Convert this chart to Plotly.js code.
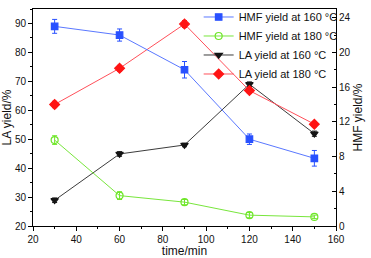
<!DOCTYPE html>
<html><head><meta charset="utf-8">
<script src="https://cdn.plot.ly/plotly-3.0.1.min.js"></script>
<style>html,body{margin:0;padding:0;background:#fff}#c{width:371px;height:258px}</style>
</head><body><div id="c"></div>
<script>
var time = [30, 60, 90, 120, 150];
var hmf160 = [23.0, 22.0, 18.0, 10.0, 7.8];
var hmf160Err = [0.8, 0.7, 0.95, 0.6, 0.9];
var hmf180 = [9.9, 3.5, 2.75, 1.25, 1.05];
var hmf180Err = [0.5, 0.45, 0.3, 0.3, 0.2];
var la160 = [28.9, 44.9, 48.0, 69.0, 51.9];
var la160Err = [0.8, 0.8, 0.6, 0.8, 0.9];
var la180 = [62.0, 74.5, 89.8, 66.8, 55.2];
var la180Err = [1.1, 1.0, 1.2, 1.0, 0.9];

function tr(name, y, err, color, lineColor, symbol, axis, size) {
  return {
    x: time, y: y, name: name, type: 'scatter', mode: 'lines+markers', yaxis: axis,
    line: {color: lineColor, width: 1},
    marker: {color: color, symbol: symbol, size: size, line: {color: color, width: 1.2}},
    error_y: {type: 'data', array: err, visible: true, color: color, thickness: 1, width: 2.5}
  };
}
var data = [
  tr('HMF yield at 160 \u00B0C', hmf160, hmf160Err, 'rgb(40,80,255)', 'rgb(90,120,255)', 'square', 'y2', 6.5),
  tr('HMF yield at 180 \u00B0C', hmf180, hmf180Err, 'rgb(110,230,40)', 'rgb(120,230,60)', 'circle-open', 'y2', 7),
  tr('LA yield at 160 \u00B0C', la160, la160Err, 'rgb(20,20,20)', 'rgb(60,60,60)', 'triangle-down', 'y', 6.5),
  tr('LA yield at 180 \u00B0C', la180, la180Err, 'rgb(255,20,20)', 'rgb(255,80,90)', 'diamond', 'y', 7.5)
];
var fam = 'Liberation Sans, Arial, sans-serif';
var fnt = {family: fam, size: 10, color: '#111'};
var layout = {
  width: 371, height: 258,
  margin: {l: 33, r: 35, t: 2, b: 32},
  paper_bgcolor: '#fff', plot_bgcolor: '#fff',
  font: fnt,
  showlegend: true,
  legend: {x: 1.022, y: 1.03, xanchor: 'right', yanchor: 'top', bgcolor: 'rgba(0,0,0,0)',
           font: {family: fam, size: 11, color: '#111'},
           tracegroupgap: 0, itemwidth: 30},
  xaxis: {range: [20, 160], dtick: 20, tick0: 20, ticks: 'outside', ticklen: 4, tickcolor: '#000',
          showline: true, linecolor: '#000', linewidth: 1, mirror: true, showgrid: false, zeroline: false,
          minor: {dtick: 10, ticklen: 2, ticks: 'outside', tickcolor: '#000'},
          title: {text: 'time/min', font: {size: 12, family: fam}, standoff: 5},
          tickfont: fnt},
  yaxis: {range: [20, 95], dtick: 10, tick0: 20, ticks: 'outside', ticklen: 4, tickcolor: '#000',
          showline: true, linecolor: '#000', linewidth: 1, showgrid: false, zeroline: false,
          minor: {dtick: 5, ticklen: 2, ticks: 'outside', tickcolor: '#000'},
          title: {text: 'LA yield/%', font: {size: 12, family: fam}, standoff: 2},
          tickfont: fnt},
  yaxis2: {range: [0, 25], dtick: 4, tick0: 0, overlaying: 'y', side: 'right', ticks: 'inside', ticklen: 4, tickcolor: '#000',
           showline: true, linecolor: '#000', linewidth: 1, showgrid: false, zeroline: false,
           minor: {dtick: 2, ticklen: 2, ticks: 'inside', tickcolor: '#000'},
           title: {text: 'HMF yield/%', font: {size: 12, family: fam}, standoff: 2},
           tickfont: fnt}
};
Plotly.newPlot('c', data, layout, {displayModeBar: false, staticPlot: true});
</script></body></html>
